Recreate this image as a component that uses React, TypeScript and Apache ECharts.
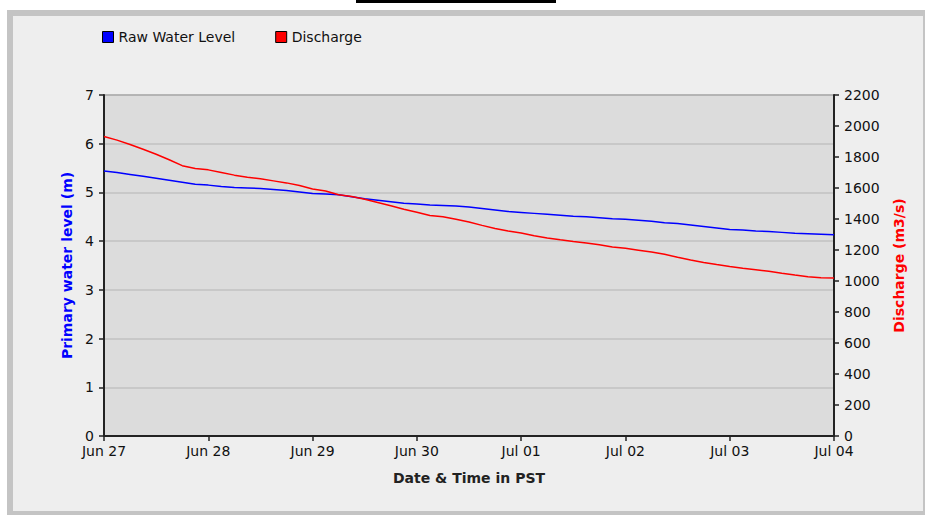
import React, { useEffect, useRef } from "react";
import * as echarts from "echarts";

// Hours since Jun 27 00:00 (3-hour steps)
const hours = [
  0, 3, 6, 9, 12, 15, 18, 21, 24, 27, 30, 33, 36, 39, 42, 45, 48, 51, 54, 57, 60, 63, 66, 69, 72, 75, 78, 81, 84, 87,
  90, 93, 96, 99, 102, 105, 108, 111, 114, 117, 120, 123, 126, 129, 132, 135, 138, 141, 144, 147, 150, 153, 156, 159,
  162, 165, 168,
];
const rawWaterLevel = [
  5.44, 5.41, 5.37, 5.33, 5.29, 5.25, 5.21, 5.17, 5.15, 5.12, 5.10, 5.09, 5.08, 5.06, 5.04, 5.01, 4.98, 4.97, 4.95, 4.91,
  4.87, 4.84, 4.81, 4.78, 4.76, 4.74, 4.73, 4.72, 4.70, 4.67, 4.64, 4.61, 4.59, 4.57, 4.55, 4.53, 4.51, 4.50, 4.48, 4.46,
  4.45, 4.43, 4.41, 4.38, 4.36, 4.33, 4.30, 4.27, 4.24, 4.23, 4.21, 4.20, 4.18, 4.16, 4.15, 4.14, 4.13,
];
const discharge = [
  1932, 1909, 1881, 1850, 1818, 1782, 1744, 1726, 1717, 1700, 1683, 1670, 1659, 1646, 1633, 1616, 1594, 1581, 1557, 1545,
  1528, 1507, 1485, 1463, 1443, 1422, 1414, 1398, 1381, 1359, 1339, 1322, 1310, 1292, 1278, 1266, 1255, 1245, 1234, 1220,
  1211, 1199, 1187, 1172, 1153, 1135, 1120, 1106, 1094, 1083, 1073, 1063, 1050, 1038, 1028, 1021, 1020,
];
const xTickLabels = ["Jun 27", "Jun 28", "Jun 29", "Jun 30", "Jul 01", "Jul 02", "Jul 03", "Jul 04"];
const seriesNames = ["Raw Water Level", "Discharge"];

const FONT = "DejaVu Sans";

export default function App() {
  const ref = useRef<HTMLDivElement>(null);
  useEffect(() => {
    if (!ref.current) return;
    const chart = echarts.init(ref.current, null, { renderer: "svg" });
    const axisLine = { show: true, lineStyle: { color: "#222", width: 2 } };
    const tick = { show: true, length: 5, lineStyle: { color: "#222", width: 1.5 } };
    const label = { color: "#111", fontFamily: FONT, fontSize: 14 };
    chart.setOption({
      animation: false,
      backgroundColor: "transparent",
      textStyle: { fontFamily: FONT },
      legend: {
        left: 102,
        top: 30,
        padding: 0,
        itemWidth: 11,
        itemHeight: 11,
        itemGap: 40,
        textStyle: { color: "#111", fontFamily: FONT, fontSize: 14 },
        data: [
          { name: seriesNames[0], icon: "rect", itemStyle: { color: "#0000ff", borderColor: "#000", borderWidth: 1 } },
          { name: seriesNames[1], icon: "rect", itemStyle: { color: "#ff0000", borderColor: "#000", borderWidth: 1 } },
        ],
      },
      grid: {
        left: 104,
        right: 91,
        top: 95,
        bottom: 79,
        show: true,
        backgroundColor: "#dcdcdc",
        borderColor: "#333",
        borderWidth: 1,
      },
      xAxis: {
        type: "value",
        min: 0,
        max: 168,
        interval: 24,
        name: "Date & Time in PST",
        nameLocation: "middle",
        nameGap: 35,
        nameTextStyle: { fontFamily: FONT, fontSize: 14, fontWeight: "bold", color: "#222" },
        axisLine,
        axisTick: tick,
        axisLabel: {
          ...label,
          margin: 8,
          showMinLabel: true,
          showMaxLabel: true,
          formatter: (v: number) => xTickLabels[Math.round(v / 24)] ?? "",
        },
        splitLine: { show: false },
      },
      yAxis: [
        {
          type: "value",
          position: "left",
          min: 0,
          max: 7,
          interval: 1,
          name: "Primary water level (m)",
          nameLocation: "middle",
          nameRotate: 90,
          nameGap: 29,
          nameTextStyle: { fontFamily: FONT, fontSize: 14, fontWeight: "bold", color: "#0000ff" },
          axisLine,
          axisTick: tick,
          axisLabel: { ...label, margin: 10 },
          splitLine: { show: true, lineStyle: { color: "#c2c2c2", width: 1.5 } },
        },
        {
          type: "value",
          position: "right",
          min: 0,
          max: 2200,
          interval: 200,
          name: "Discharge (m3/s)",
          nameLocation: "middle",
          nameRotate: 90,
          nameGap: 58,
          nameTextStyle: { fontFamily: FONT, fontSize: 14, fontWeight: "bold", color: "#ff0000" },
          axisLine,
          axisTick: tick,
          axisLabel: { ...label, margin: 10, formatter: (v: number) => String(v) },
          splitLine: { show: false },
        },
      ],
      series: [
        {
          name: seriesNames[0],
          type: "line",
          yAxisIndex: 0,
          showSymbol: false,
          symbol: "none",
          lineStyle: { color: "#0000ff", width: 1.5 },
          itemStyle: { color: "#0000ff" },
          data: hours.map((h, i) => [h, rawWaterLevel[i]]),
        },
        {
          name: seriesNames[1],
          type: "line",
          yAxisIndex: 1,
          showSymbol: false,
          symbol: "none",
          lineStyle: { color: "#ff0000", width: 1.5 },
          itemStyle: { color: "#ff0000" },
          data: hours.map((h, i) => [h, discharge[i]]),
        },
      ],
    });
    return () => chart.dispose();
  }, []);

  return (
    <div style={{ position: "fixed", left: 0, top: 0, width: 925, height: 515, background: "#fff", overflow: "hidden" }}>
      <div style={{ position: "absolute", left: 356, top: 0, width: 200, height: 3, background: "#000" }} />
      <div
        style={{
          position: "absolute",
          left: 7,
          top: 10,
          width: 910,
          height: 495,
          border: "6px solid #c4c4c4",
          background: "#eeeeee",
        }}
      />
      <div ref={ref} style={{ position: "absolute", left: 0, top: 0, width: 925, height: 515 }} />
    </div>
  );
}
